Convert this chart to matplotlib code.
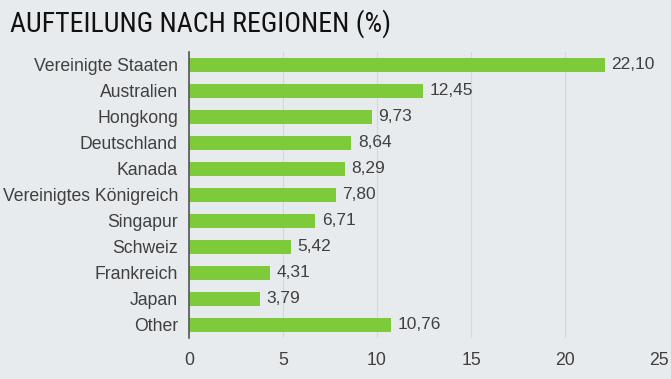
import numpy as np
import matplotlib.pyplot as plt
from matplotlib import font_manager

regions = ['Vereinigte Staaten', 'Australien', 'Hongkong', 'Deutschland', 'Kanada',
           'Vereinigtes Königreich', 'Singapur', 'Schweiz', 'Frankreich', 'Japan', 'Other']
shares = [22.10, 12.45, 9.73, 8.64, 8.29, 7.80, 6.71, 5.42, 4.31, 3.79, 10.76]
xticks = [0, 5, 10, 15, 20, 25]

bg = '#e7ebee'
bar_color = '#7dcb3a'
text_color = '#404040'

plt.rcParams['font.family'] = ['Liberation Sans', 'DejaVu Sans']

# narrow face for the title, if one is installed
names = set(f.name for f in font_manager.fontManager.ttflist)
title_font = 'Liberation Sans'
for cand in ['Liberation Sans Narrow', 'Arimo Narrow', 'Roboto Condensed', 'Archivo Narrow']:
    if cand in names:
        title_font = cand
        break

fig = plt.figure(figsize=(6.71, 3.79), dpi=100, facecolor=bg)
ax = fig.add_axes([0.2817, 0.1082, 0.7005, 0.7546], facecolor=bg)

y = np.arange(len(regions))
ax.barh(y, shares, height=0.55, color=bar_color, zorder=3)
for yi, v in zip(y, shares):
    ax.text(v + 0.35, yi, '{:.2f}'.format(v).replace('.', ','), va='center', ha='left',
            fontsize=12.5, color=text_color)

ax.set_xlim(0, 25)
ax.set_ylim(len(regions) - 0.5, -0.5)
ax.set_yticks(y)
ax.set_yticklabels(regions, fontsize=12.7, color=text_color)
ax.set_xticks(xticks)
ax.set_xticklabels([str(t) for t in xticks], fontsize=12.7, color=text_color)
ax.tick_params(axis='y', length=0, pad=8)
ax.tick_params(axis='x', length=0, pad=10)
ax.grid(axis='x', color='#d3d8dc', linewidth=0.8, zorder=0)
for s in ['top', 'right', 'bottom']:
    ax.spines[s].set_visible(False)
ax.spines['left'].set_color('#555555')
ax.spines['left'].set_linewidth(1.2)
ax.spines['left'].set_zorder(4)

title = fig.text(0.015, 0.937, 'AUFTEILUNG NACH REGIONEN (%)', fontsize=20, color='#111111',
                 va='center', ha='left', family=[title_font, 'DejaVu Sans'])
# keep the title about as wide as in the original (~380 px)
fig.canvas.draw()
w = title.get_window_extent().width
title.set_fontsize(20 * min(1.15, max(0.8, 380.0 / w)))

fig.savefig('out.png', dpi=100, facecolor=bg)
